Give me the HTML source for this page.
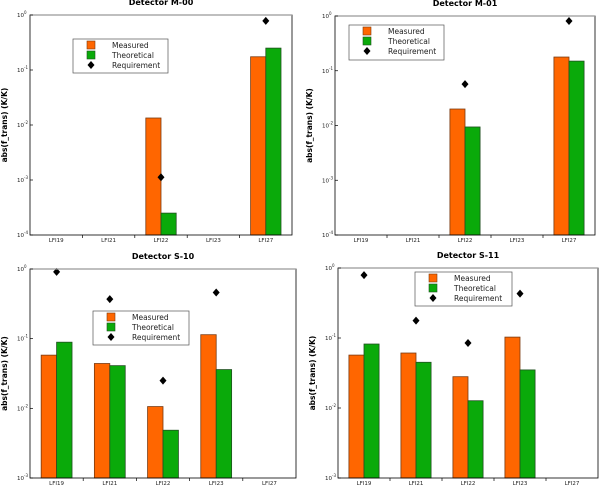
<!DOCTYPE html>
<html><head><meta charset="utf-8"><style>
body{margin:0;background:#fff;}
svg{display:block;font-family:"DejaVu Sans","Liberation Sans",sans-serif;}
</style></head><body>
<svg id="c" width="601" height="486" viewBox="0 0 601 486"></svg>
<script>
const categories=["LFI19","LFI21","LFI22","LFI23","LFI27"];
const titles=["Detector M-00","Detector M-01","Detector S-10","Detector S-11"];
const measuredM00=[null,null,0.0134,null,0.174];
const theoreticalM00=[null,null,0.00025,null,0.25];
const requirementM00=[null,null,0.00112,null,0.78];
const measuredM01=[null,null,0.02,null,0.178];
const theoreticalM01=[null,null,0.0094,null,0.15];
const requirementM01=[null,null,0.057,null,0.81];
const measuredS10=[0.058,0.044,0.0106,0.114,null];
const theoreticalS10=[0.089,0.041,0.00485,0.036,null];
const requirementS10=[0.91,0.37,0.025,0.46,null];
const measuredS11=[0.057,0.061,0.028,0.103,null];
const theoreticalS11=[0.082,0.045,0.0127,0.035,null];
const requirementS11=[0.79,0.177,0.085,0.43,null];
const yMinExp=[-4,-4,-3,-3];

const svg=document.getElementById('c');
const NS='http://www.w3.org/2000/svg';
function mk(tag,attrs,parent){const e=document.createElementNS(NS,tag);for(const k in attrs)e.setAttribute(k,attrs[k]);(parent||svg).appendChild(e);return e;}

const panels=[
 {x0:30,x1:292,y0:15,y1:235,leg:[73,39,95,34],m:measuredM00,t:theoreticalM00,r:requirementM00,id:'m00'},
 {x0:335,x1:595,y0:16,y1:235,leg:[349,25,95,35],m:measuredM01,t:theoreticalM01,r:requirementM01,id:'m01'},
 {x0:30,x1:296,y0:269,y1:478,leg:[93,311,96,34],m:measuredS10,t:theoreticalS10,r:requirementS10,id:'s10'},
 {x0:338,x1:598,y0:268,y1:478,leg:[415,272,97,34],m:measuredS11,t:theoreticalS11,r:requirementS11,id:'s11'}
];

panels.forEach((p,pi)=>{
 const g=mk('g',{});
 
 
 const minE=yMinExp[pi];
 const yS=v=>p.y0+(0-Math.log10(v))/(0-minE)*(p.y1-p.y0);
 const cw=(p.x1-p.x0)/categories.length;
 const xC=i=>p.x0+(i+0.5)*cw;
 const bw=cw*0.29;
 const tt=mk('text',{x:(p.x0+p.x1)/2,y:p.y0-10,'text-anchor':'middle','font-size':8,'font-weight':'bold',fill:'#000'},g);
 tt.textContent=titles[pi];
 
 
 const yl=mk('text',{x:0,y:0,'text-anchor':'middle','font-size':7.5,'font-weight':'bold',transform:`translate(${p.x0-23},${(p.y0+p.y1)/2}) rotate(-90)`},g);
 yl.textContent='abs(f_trans) (K/K)';
 
 
 categories.forEach((c,i)=>{
  if(p.m[i]!=null){const r=mk('rect',{x:xC(i)-bw,y:yS(p.m[i]),width:bw,height:p.y1-yS(p.m[i]),fill:'#ff6600',stroke:'#7a3a10','stroke-width':0.8},g);
   
   }
  if(p.t[i]!=null){const r=mk('rect',{x:xC(i),y:yS(p.t[i]),width:bw,height:p.y1-yS(p.t[i]),fill:'#0aaa0a',stroke:'#205020','stroke-width':0.8},g);
   
   }
 });
 categories.forEach((c,i)=>{
  if(p.r[i]!=null){const y=yS(p.r[i]),x=xC(i);
   const d=mk('polygon',{points:`${x},${y-4} ${x+3.5},${y} ${x},${y+4} ${x-3.5},${y}`,fill:'#000'},g);
   
   }
 });
 const fr=mk('rect',{x:p.x0,y:p.y0,width:p.x1-p.x0,height:p.y1-p.y0,fill:'none',stroke:'#000','stroke-width':0.8},g);
 
 
 mk('line',{x1:p.x0,y1:p.y0,x2:p.x1,y2:p.y0,stroke:'#999','stroke-width':1.2},g);
 for(let i=1;i<categories.length;i++){mk('line',{x1:p.x0+i*cw,y1:p.y1,x2:p.x0+i*cw,y2:p.y1+3,stroke:'#000','stroke-width':0.7},g);}
 categories.forEach((c,i)=>{const t=mk('text',{x:xC(i),y:p.y1+7.2,'text-anchor':'middle','font-size':5.5,fill:'#222'},g);t.textContent=c;
  
  });
 for(let e=0;e>=minE;e--){const y=yS(Math.pow(10,e));
  mk('line',{x1:p.x0,y1:y,x2:p.x0+3,y2:y,stroke:'#000','stroke-width':0.7},g);
  const t=mk('text',{x:p.x0-6,y:y+2,'text-anchor':'end','font-size':5.5,fill:'#222'},g);
  t.textContent='10';
  
  
  const s=mk('text',{x:p.x0-6,y:y-1,'text-anchor':'start','font-size':4,fill:'#222'},g);s.textContent=String(e);}
 const [lx,ly,lw,lh]=p.leg;
 const lg=mk('g',{},g);
 
 
 mk('rect',{x:lx,y:ly,width:lw,height:lh,fill:'#fff',stroke:'#555','stroke-width':0.7},lg);
 const items=[['Measured','#ff6600','#7a3a10'],['Theoretical','#0aaa0a','#205020'],['Requirement',null]];
 items.forEach((it,k)=>{const cy=ly+6+k*10;
  if(it[1]){mk('rect',{x:lx+14,y:cy-4,width:8,height:8,fill:it[1],stroke:it[2],'stroke-width':0.6},lg);}
  else{mk('polygon',{points:`${lx+18},${cy-4} ${lx+21.5},${cy} ${lx+18},${cy+4} ${lx+14.5},${cy}`,fill:'#000'},lg);}
  const t=mk('text',{x:lx+39,y:cy+3,'font-size':7.5,fill:'#222'},lg);t.textContent=it[0];
  
  });
});
</script>
</body></html>
